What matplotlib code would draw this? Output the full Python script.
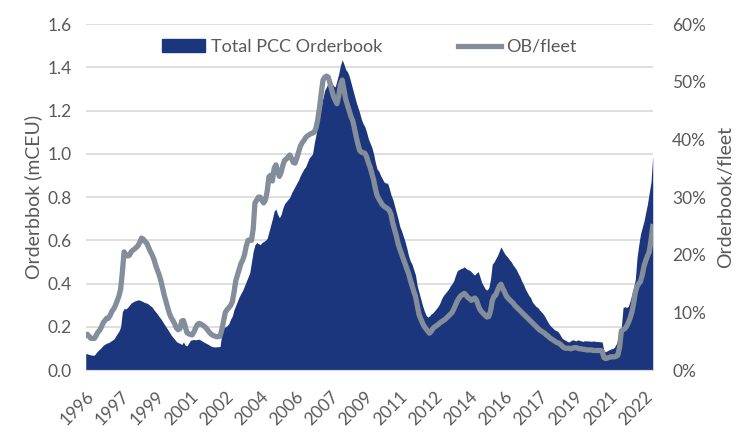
import matplotlib
matplotlib.use("Agg")
import matplotlib.pyplot as plt
import matplotlib.patches as mpatches
import matplotlib.lines as mlines
import numpy as np
import pandas as pd

# monthly values, Jan 1996 .. Feb 2023
orderbook = [
    0.077, 0.075, 0.072, 0.070, 0.069, 0.070, 0.080, 0.090, 0.097, 0.105, 0.115, 0.120,  # 1996
    0.125, 0.127, 0.132, 0.138, 0.142, 0.155, 0.168, 0.180, 0.200, 0.270, 0.285, 0.283,  # 1997
    0.290, 0.300, 0.310, 0.315, 0.320, 0.322, 0.325, 0.324, 0.320, 0.316, 0.312, 0.310,  # 1998
    0.305, 0.298, 0.292, 0.280, 0.270, 0.260, 0.248, 0.238, 0.225, 0.212, 0.200, 0.188,  # 1999
    0.175, 0.162, 0.152, 0.142, 0.132, 0.127, 0.124, 0.118, 0.130, 0.115, 0.112, 0.125,  # 2000
    0.138, 0.140, 0.142, 0.140, 0.142, 0.143, 0.138, 0.133, 0.128, 0.124, 0.120, 0.115,  # 2001
    0.110, 0.108, 0.107, 0.108, 0.108, 0.110, 0.170, 0.195, 0.200, 0.205, 0.215, 0.235,  # 2002
    0.250, 0.280, 0.300, 0.320, 0.340, 0.355, 0.370, 0.390, 0.410, 0.430, 0.450, 0.500,  # 2003
    0.550, 0.580, 0.590, 0.585, 0.580, 0.590, 0.595, 0.600, 0.610, 0.640, 0.670, 0.700,  # 2004
    0.735, 0.745, 0.720, 0.705, 0.720, 0.750, 0.770, 0.780, 0.790, 0.800, 0.820, 0.835,  # 2005
    0.850, 0.865, 0.880, 0.900, 0.915, 0.930, 0.940, 0.960, 0.980, 0.990, 1.000, 1.050,  # 2006
    1.090, 1.140, 1.185, 1.220, 1.260, 1.295, 1.310, 1.330, 1.340, 1.330, 1.315, 1.310,  # 2007
    1.340, 1.370, 1.410, 1.435, 1.415, 1.390, 1.380, 1.360, 1.330, 1.300, 1.270, 1.240,  # 2008
    1.215, 1.190, 1.160, 1.140, 1.125, 1.100, 1.070, 1.050, 1.030, 1.000, 0.960, 0.930,  # 2009
    0.920, 0.900, 0.885, 0.870, 0.865, 0.865, 0.840, 0.810, 0.790, 0.760, 0.730, 0.700,  # 2010
    0.665, 0.645, 0.620, 0.595, 0.565, 0.530, 0.505, 0.490, 0.465, 0.440, 0.390, 0.360,  # 2011
    0.330, 0.300, 0.275, 0.255, 0.245, 0.250, 0.260, 0.265, 0.275, 0.285, 0.295, 0.310,  # 2012
    0.330, 0.345, 0.355, 0.365, 0.375, 0.390, 0.400, 0.415, 0.440, 0.460, 0.465, 0.470,  # 2013
    0.472, 0.478, 0.470, 0.465, 0.462, 0.455, 0.445, 0.440, 0.450, 0.455, 0.430, 0.405,  # 2014
    0.390, 0.375, 0.370, 0.380, 0.420, 0.490, 0.500, 0.515, 0.530, 0.550, 0.570, 0.555,  # 2015
    0.540, 0.530, 0.520, 0.509, 0.500, 0.485, 0.475, 0.462, 0.445, 0.430, 0.410, 0.395,  # 2016
    0.375, 0.360, 0.345, 0.335, 0.315, 0.305, 0.295, 0.290, 0.280, 0.270, 0.262, 0.250,  # 2017
    0.235, 0.220, 0.208, 0.200, 0.192, 0.185, 0.182, 0.175, 0.162, 0.148, 0.142, 0.138,  # 2018
    0.133, 0.130, 0.136, 0.140, 0.138, 0.135, 0.140, 0.138, 0.135, 0.133, 0.136, 0.135,  # 2019
    0.135, 0.134, 0.133, 0.135, 0.133, 0.132, 0.132, 0.131, 0.130, 0.090, 0.085, 0.090,  # 2020
    0.094, 0.098, 0.100, 0.105, 0.120, 0.139, 0.170, 0.200, 0.290, 0.293, 0.290, 0.295,  # 2021
    0.320, 0.350, 0.380, 0.420, 0.520, 0.580, 0.630, 0.660, 0.690, 0.730, 0.770, 0.820,  # 2022
    0.870, 0.990,                                                                        # 2023
]

ob_fleet = [
    6.1, 6.2, 5.8, 5.5, 5.5, 5.5, 6.0, 6.6, 6.9, 7.5, 8.2, 8.6,              # 1996
    9.0, 9.0, 9.5, 10.2, 10.6, 11.2, 12.0, 12.8, 14.0, 17.0, 20.5, 20.0,     # 1997
    19.8, 19.9, 20.5, 20.8, 21.0, 21.3, 21.6, 22.2, 22.9, 22.7, 22.3, 22.0,  # 1998
    21.3, 20.6, 20.0, 19.3, 18.3, 17.4, 16.6, 15.6, 14.3, 13.0, 11.9, 10.8,  # 1999
    9.8, 9.1, 8.6, 8.0, 7.3, 7.0, 7.2, 8.5, 8.6, 7.6, 6.5, 6.3,              # 2000
    6.2, 6.1, 6.6, 7.3, 7.9, 8.1, 8.0, 7.8, 7.6, 7.3, 6.9, 6.5,              # 2001
    6.2, 6.0, 5.9, 5.8, 5.8, 5.9, 7.0, 8.5, 10.0, 10.5, 10.8, 11.2,          # 2002
    11.8, 13.5, 15.5, 16.5, 17.5, 18.5, 19.1, 20.0, 21.5, 22.5, 22.6, 22.5,  # 2003
    24.5, 29.0, 29.5, 30.0, 30.0, 29.4, 29.0, 29.5, 31.0, 33.5, 33.8, 32.8,  # 2004
    35.0, 35.6, 34.5, 33.6, 34.3, 35.5, 36.4, 36.6, 37.0, 37.3, 36.7, 36.0,  # 2005
    35.9, 36.8, 37.8, 38.8, 39.4, 39.8, 40.3, 40.6, 40.8, 41.0, 41.1, 41.3,  # 2006
    42.0, 43.5, 45.5, 48.0, 50.3, 50.8, 51.0, 50.8, 49.8, 48.6, 47.5, 46.8,  # 2007
    46.2, 47.5, 49.5, 50.3, 48.7, 47.0, 46.0, 45.0, 44.0, 43.3, 42.0, 40.5,  # 2008
    39.2, 38.1, 37.8, 37.7, 37.6, 37.0, 36.0, 35.2, 34.1, 33.0, 31.5, 30.3,  # 2009
    29.7, 29.2, 28.7, 28.4, 28.2, 28.0, 27.7, 27.0, 25.5, 24.4, 23.3, 22.0,  # 2010
    21.0, 20.2, 19.3, 18.5, 17.6, 16.8, 15.7, 14.7, 13.7, 12.8, 11.2, 9.7,   # 2011
    8.9, 8.2, 7.6, 7.2, 6.8, 6.4, 6.7, 7.2, 7.5, 7.7, 7.9, 8.2,              # 2012
    8.4, 8.6, 8.8, 9.1, 9.4, 9.7, 10.0, 10.6, 11.3, 12.0, 12.5, 12.9,        # 2013
    13.1, 13.3, 13.0, 12.6, 12.4, 12.1, 12.3, 12.5, 12.1, 11.2, 10.5, 10.1,  # 2014
    9.8, 9.5, 9.2, 9.3, 10.2, 12.0, 12.8, 13.0, 13.8, 14.5, 14.9, 14.2,      # 2015
    13.6, 12.9, 12.5, 12.2, 11.9, 11.6, 11.2, 10.9, 10.6, 10.3, 10.0, 9.7,   # 2016
    9.4, 9.1, 8.8, 8.5, 8.2, 7.9, 7.6, 7.3, 7.0, 6.8, 6.6, 6.4,              # 2017
    6.1, 5.9, 5.6, 5.4, 5.2, 5.0, 4.8, 4.7, 4.5, 4.2, 3.9, 3.8,              # 2018
    3.8, 3.8, 3.7, 3.8, 3.9, 3.9, 3.8, 3.7, 3.7, 3.6, 3.6, 3.5,              # 2019
    3.5, 3.5, 3.5, 3.4, 3.4, 3.4, 3.4, 3.4, 3.3, 2.2, 2.0, 2.1,              # 2020
    2.2, 2.3, 2.3, 2.3, 2.4, 2.6, 4.0, 6.8, 7.0, 7.2, 7.6, 8.2,              # 2021
    9.0, 10.0, 11.5, 13.5, 14.5, 15.0, 15.4, 16.5, 18.0, 19.0, 19.8, 20.5,   # 2022
    22.5, 24.9,                                                              # 2023
]

start_month = "1996-01"
label_every = 20  # months between x labels

dates = pd.date_range(start_month, periods=len(orderbook), freq="MS")
x = np.arange(len(orderbook))
tick_pos = x[::label_every]
tick_labels = [str(d.year) for d in dates[::label_every]]

navy = "#1b367c"
grey = "#848e9b"
text_col = "#595959"
plt.rcParams["font.family"] = ["Lato", "DejaVu Sans"]

fig = plt.figure(figsize=(7.52, 4.47), dpi=100)
ax = fig.add_axes([0.114, 0.172, 0.754, 0.774])
ax2 = ax.twinx()

ax.fill_between(x, 0, orderbook, color=navy, linewidth=0, zorder=2)
ax2.plot(x, np.array(ob_fleet) / 100, color=grey, linewidth=3.8, solid_joinstyle="round")

ax.set_xlim(0, len(x) - 1)
ax.set_ylim(0, 1.6)
ax.set_yticks(np.arange(0, 1.61, 0.2))
ax.set_yticklabels([f"{v:.1f}" for v in np.arange(0, 1.61, 0.2)])
ax2.set_ylim(0, 0.6)
ax2.set_yticks(np.arange(0, 0.61, 0.1))
ax2.set_yticklabels([f"{v*100:.0f}%" for v in np.arange(0, 0.61, 0.1)])

ax.set_xticks(tick_pos)
ax.set_xticklabels(tick_labels, rotation=45, ha="right", rotation_mode="anchor")

ax.set_axisbelow(True)
ax.grid(axis="y", color="#d9d9d9", linewidth=1.2)
for a in (ax, ax2):
    for s in ("top", "left", "right"):
        a.spines[s].set_visible(False)
    a.spines["bottom"].set_color("#d9d9d9")
    a.tick_params(length=0, labelsize=12.5, colors=text_col)
ax.tick_params(axis="y", pad=10)
ax2.tick_params(axis="y", pad=14)
ax.tick_params(axis="x", pad=13)

ax.set_ylabel("Orderbbok (mCEU)", fontsize=14, color=text_col, labelpad=4)
ax2.set_ylabel("Orderbook/fleet", fontsize=14, color=text_col, labelpad=8)

handles = [mpatches.Patch(color=navy, label="Total PCC Orderbook"),
           mlines.Line2D([], [], color=grey, linewidth=3.8, label="OB/fleet")]
ax.legend(handles=handles, loc="center", bbox_to_anchor=(0.5, 0.934), ncol=2,
          frameon=False, fontsize=13, labelcolor=text_col, handlelength=2.4,
          handletextpad=0.3, columnspacing=4.2)

fig.savefig("out.png", dpi=100)
